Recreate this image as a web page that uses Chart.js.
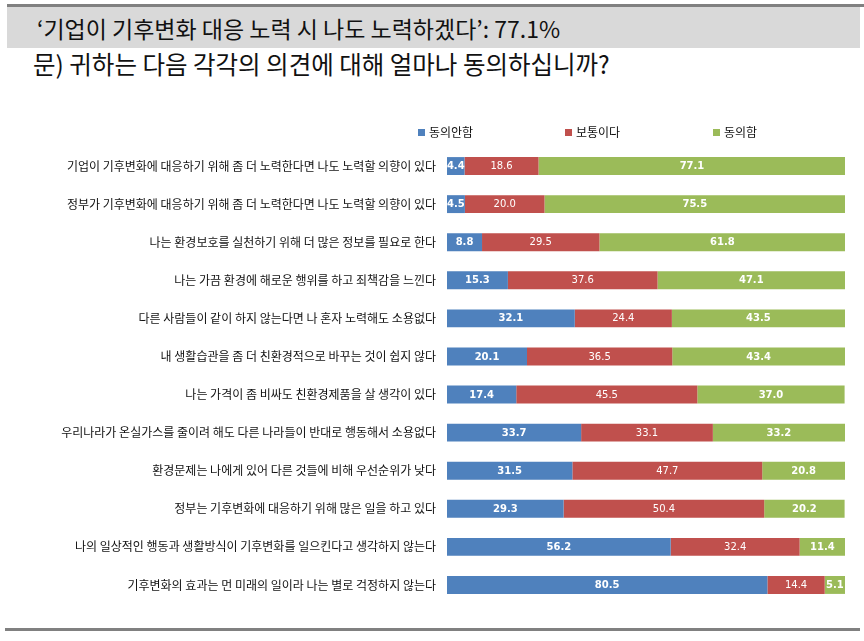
<!DOCTYPE html>
<html><head><meta charset="utf-8">
<script src="https://cdn.jsdelivr.net/npm/chart.js@4/dist/chart.umd.min.js"></script>
<style>
html,body{margin:0;padding:0;background:#fff;width:864px;height:641px;overflow:hidden;font-family:"Noto Sans CJK KR","Noto Sans",sans-serif;}
#topline{position:absolute;left:7px;top:4px;width:857px;height:3px;background:#808080;}
#titlebox{position:absolute;left:7px;top:7px;width:853px;height:41px;background:#d9d9d9;}
#title{position:absolute;left:37px;top:8px;font-size:23px;line-height:40px;color:#111;white-space:nowrap;}
#question{position:absolute;left:33px;top:49px;font-size:24.5px;line-height:30px;color:#111;white-space:nowrap;}
#bottomline{position:absolute;left:5px;top:628px;width:855px;height:3px;background:#808080;}
#legend{position:absolute;top:124px;left:0;height:16px;}
.li{position:absolute;top:0;font-size:12px;line-height:16px;white-space:nowrap;color:#111;}
.li span{display:inline-block;width:7px;height:7px;margin-right:4px;vertical-align:1px;}
#wrap{position:absolute;left:0;top:0;width:864px;height:641px;}
canvas{display:block;}
</style></head>
<body>
<div id="topline"></div>
<div id="titlebox"></div>
<div id="title">‘기업이 기후변화 대응 노력 시 나도 노력하겠다’: 77.1%</div>
<div id="question">문) 귀하는 다음 각각의 의견에 대해 얼마나 동의하십니까?</div>
<div id="wrap"><canvas id="c" width="864" height="641" style="width:864px;height:641px"></canvas></div>
<div id="legend"></div>
<div id="bottomline"></div>
<script>
const categories = [
  "기업이 기후변화에 대응하기 위해 좀 더 노력한다면 나도 노력할 의향이 있다",
  "정부가 기후변화에 대응하기 위해 좀 더 노력한다면 나도 노력할 의향이 있다",
  "나는 환경보호를 실천하기 위해 더 많은 정보를 필요로 한다",
  "나는 가끔 환경에 해로운 행위를 하고 죄책감을 느낀다",
  "다른 사람들이 같이 하지 않는다면 나 혼자 노력해도 소용없다",
  "내 생활습관을 좀 더 친환경적으로 바꾸는 것이 쉽지 않다",
  "나는 가격이 좀 비싸도 친환경제품을 살 생각이 있다",
  "우리나라가 온실가스를 줄이려 해도 다른 나라들이 반대로 행동해서 소용없다",
  "환경문제는 나에게 있어 다른 것들에 비해 우선순위가 낮다",
  "정부는 기후변화에 대응하기 위해 많은 일을 하고 있다",
  "나의 일상적인 행동과 생활방식이 기후변화를 일으킨다고 생각하지 않는다",
  "기후변화의 효과는 먼 미래의 일이라 나는 별로 걱정하지 않는다"
];
const seriesNames = ["동의안함", "보통이다", "동의함"];
const disagree = [4.4, 4.5, 8.8, 15.3, 32.1, 20.1, 17.4, 33.7, 31.5, 29.3, 56.2, 80.5];
const neutral  = [18.6, 20.0, 29.5, 37.6, 24.4, 36.5, 45.5, 33.1, 47.7, 50.4, 32.4, 14.4];
const agree    = [77.1, 75.5, 61.8, 47.1, 43.5, 43.4, 37.0, 33.2, 20.8, 20.2, 11.4, 5.1];

const colors = ["#4F81BD", "#C0504D", "#9BBB59"];
const labelBold = [true, false, true];

const labelPlugin = {
  id: 'barLabels',
  afterDatasetsDraw(chart) {
    const ctx = chart.ctx;
    ctx.save();
    ctx.textAlign = 'center';
    ctx.textBaseline = 'middle';
    ctx.fillStyle = '#ffffff';
    chart.data.datasets.forEach((ds, di) => {
      const meta = chart.getDatasetMeta(di);
      ctx.font = (labelBold[di] ? 'bold ' : '') + '10px "DejaVu Sans", sans-serif';
      meta.data.forEach((bar, i) => {
        const v = ds.data[i];
        const x = (bar.x + bar.base) / 2;
        ctx.fillText(v.toFixed(1), x, bar.y + 0.5);
      });
    });
    ctx.restore();
  }
};

new Chart(document.getElementById('c'), {
  type: 'bar',
  data: {
    labels: categories,
    datasets: [
      { label: seriesNames[0], data: disagree, backgroundColor: colors[0] },
      { label: seriesNames[1], data: neutral,  backgroundColor: colors[1] },
      { label: seriesNames[2], data: agree,    backgroundColor: colors[2] }
    ]
  },
  options: {
    indexAxis: 'y',
    responsive: false,
    animation: false,
    devicePixelRatio: 1,
    barPercentage: 0.47,
    categoryPercentage: 1,
    layout: { padding: { left: 0, right: 19, top: 147, bottom: 37 } },
    plugins: { legend: { display: false }, tooltip: { enabled: false } },
    scales: {
      x: { stacked: true, min: 0, max: 100, display: false },
      y: {
        stacked: true,
        grid: { display: false, drawTicks: false },
        border: { display: false },
        ticks: { color: '#111', font: { family: '"Noto Sans CJK KR", sans-serif', size: 12 }, padding: 11, autoSkip: false },
        afterFit(scale) { scale.width = 447; }
      }
    }
  },
  plugins: [labelPlugin]
});

const legendX = [418, 565, 713];
const lg = document.getElementById('legend');
seriesNames.forEach((n, i) => {
  const d = document.createElement('div');
  d.className = 'li';
  d.style.left = legendX[i] + 'px';
  d.innerHTML = '<span style="background:' + colors[i] + '"></span>' + n;
  lg.appendChild(d);
});
</script>
</body></html>
